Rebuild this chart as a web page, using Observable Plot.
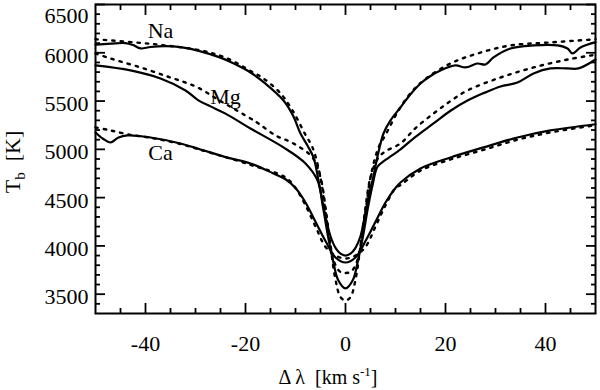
<!DOCTYPE html>
<html><head><meta charset="utf-8">
<script src="https://cdn.jsdelivr.net/npm/d3@7"></script>
<script src="https://cdn.jsdelivr.net/npm/@observablehq/plot@0.6"></script>
<style>
body{margin:0;background:#fff}
</style>
</head><body><div id="chart"></div>
<script>
// x: Δλ (km/s), y: Tb (K)
const naSolidX = [-50,-47,-44,-42.5,-41,-39,-36,-33,-29,-25,-22,-19,-16,-12.4,-10.5,-9,-7.5,-6.4,-5.4,-4,-3,-2,-1,0,1,2,3,4,5,5.4,6.5,7.6,9,11,13,15,17,19,22,24,26.4,28,29.6,33,37.6,42.4,44.4,45.4,47,50];
const naSolidY = [6085,6095,6100,6080,6045,6060,6068,6058,6015,5950,5880,5796,5680,5506,5350,5164,5030,4916,4678,4300,4100,3980,3920,3900,3920,3980,4100,4350,4600,4678,4950,5164,5300,5434,5570,5682,5760,5817,5869,5848,5889,5879,5952,6045,6076,6076,6045,5993,6055,6110];
const naDotX = [-50,-42,-36,-29,-24,-18.6,-16.4,-13,-10.6,-8,-6.6,-5,-4,-3,-2,-1,0,1,2,3,4,5,6.6,8,10.6,13,16,21,26.4,33,41,50];
const naDotY = [6140,6107,6076,6024,5950,5800,5734,5580,5403,5150,5020,4709,4350,4000,3800,3730,3720,3730,3800,4000,4350,4709,5020,5150,5403,5580,5730,5889,5993,6076,6107,6140];
const mgSolidX = [-50,-43,-37,-32,-29.5,-27,-24,-19,-12.4,-8,-5.6,-4.5,-3.5,-2.5,-1.5,0,1.5,2.5,3.5,4.5,5.5,6.4,8,11,14,17.6,21,24.4,28,31,34.4,37.6,41,44.4,46.6,50];
const mgSolidY = [5869,5817,5734,5610,5510,5445,5370,5216,5020,4854,4678,4400,4100,3850,3650,3560,3650,3850,4100,4400,4650,4820,4890,5000,5130,5268,5400,5506,5590,5651,5692,5786,5838,5838,5838,5930];
const mgDotX = [-50,-47,-41,-35,-30,-25,-19,-17.4,-14,-10.4,-6.6,-5,-4,-3,-2,-1,0,1,2,3,4,5,6.6,8,11,14,17.6,21,24.4,31,37.6,44.4,50];
const mgDotY = [5993,5941,5848,5744,5651,5500,5320,5268,5144,5061,4916,4709,4400,4000,3650,3470,3435,3470,3650,4000,4400,4709,4916,4980,5061,5220,5371,5500,5610,5744,5848,5930,5980];
const caSolidX = [-50,-48.5,-47,-45.5,-43.6,-39,-33,-29,-24,-19,-14.4,-12,-10,-8,-6,-4,-2,0,2,4,6,8,10,11,15,21,27.6,34.4,41,50];
const caSolidY = [5175,5110,5071,5120,5144,5123,5061,4999,4920,4854,4750,4690,4600,4450,4250,4050,3880,3828,3880,4050,4250,4450,4600,4657,4802,4916,5020,5123,5196,5260];
const caDotX = [-50,-47,-43,-39,-33,-29,-19,-12,-10,-8,-6,-4,-2,0,2,4,6,8,10,11,15,21,27.6,34.4,41,50];
const caDotY = [5227,5196,5150,5120,5055,4995,4840,4709,4600,4420,4200,3990,3900,3870,3900,3990,4200,4420,4600,4630,4780,4895,4995,5100,5175,5250];

const labelNames = ["Na","Mg","Ca"];
const labelX = [-37,-24,-37];
const labelY = [6225,5540,4965];

const xMajor = [-40,-20,0,20,40];
const xMinor = d3.range(-45,50,5).filter(v => !xMajor.includes(v));
const yMajor = [3500,4000,4500,5000,5500,6000,6500];
const yMinor = d3.range(3400,6500,100).filter(v => !yMajor.includes(v));

const toRows = (xs, ys) => xs.map((x,i) => ({x, y: ys[i]}));
const solid = [toRows(naSolidX,naSolidY), toRows(mgSolidX,mgSolidY), toRows(caSolidX,caSolidY)];
const dotted = [toRows(naDotX,naDotY), toRows(mgDotX,mgDotY), toRows(caDotX,caDotY)];
const labels = labelNames.map((t,i) => ({t, x: labelX[i], y: labelY[i]}));

const FONT = "'Liberation Serif', 'Times New Roman', Times, serif";
const blank = () => "";
const plain = d => String(d);
const tk = {strokeWidth: 1.8, label: null, tickFormat: blank};

const plot = Plot.plot({
  width: 600, height: 390,
  marginLeft: 95, marginRight: 5, marginTop: 4, marginBottom: 77,
  x: {domain: [-50, 50]},
  y: {domain: [3300, 6500]},
  style: {fontFamily: FONT, fontSize: "22px", background: "#fff", color: "#000"},
  marks: [
    ...dotted.map(d => Plot.line(d, {x: "x", y: "y", curve: "catmull-rom", stroke: "#000", strokeWidth: 2.4, strokeDasharray: "2.4,6"})),
    ...solid.map(d => Plot.line(d, {x: "x", y: "y", curve: "catmull-rom", stroke: "#000", strokeWidth: 2.2})),
    Plot.text(labels, {x: "x", y: "y", text: "t", fontSize: 22, fill: "#000"}),
    Plot.axisX(xMajor, {anchor: "bottom", tickSize: -10, ...tk}),
    Plot.axisX(xMinor, {anchor: "bottom", tickSize: -5, ...tk}),
    Plot.axisX(xMajor, {anchor: "top", tickSize: -10, ...tk}),
    Plot.axisX(xMinor, {anchor: "top", tickSize: -5, ...tk}),
    Plot.axisY(yMajor, {anchor: "left", tickSize: -10, ...tk}),
    Plot.axisY(yMinor, {anchor: "left", tickSize: -5, ...tk}),
    Plot.axisY(yMajor, {anchor: "right", tickSize: -10, ...tk}),
    Plot.axisY(yMinor, {anchor: "right", tickSize: -5, ...tk}),
    Plot.axisX(xMajor, {anchor: "bottom", tickSize: 0, tickPadding: 22, label: null, fontSize: 22, tickFormat: plain}),
    Plot.axisY(yMajor.slice(0, -1), {anchor: "left", tickSize: 0, tickPadding: 7, dy: 3, label: null, fontSize: 22, tickFormat: plain}),
    Plot.axisY(yMajor.slice(-1), {anchor: "left", tickSize: 0, tickPadding: 7, dy: 11, label: null, fontSize: 22, tickFormat: plain}),
    Plot.frame({stroke: "#000", strokeWidth: 2})
  ]
});
document.getElementById("chart").appendChild(plot);

const svg = d3.select(plot);
const yl = svg.append("text")
  .attr("transform", "translate(20,162) rotate(-90)")
  .attr("text-anchor", "middle")
  .attr("font-size", 22).attr("fill", "#000");
yl.append("tspan").text("T");
yl.append("tspan").attr("font-size", 15).attr("dy", 5).text("b");
yl.append("tspan").attr("dy", -5).text("\u00a0\u00a0[K]");

const xl = svg.append("text")
  .attr("x", 328).attr("y", 384)
  .attr("text-anchor", "middle")
  .attr("font-size", 20).attr("fill", "#000");
xl.append("tspan").text("\u0394\u2009\u03bb\u2002[km s");
xl.append("tspan").attr("font-size", 13).attr("dy", -8).text("-1");
xl.append("tspan").attr("dy", 8).text("]");

svg.selectAll("text, tspan")
  .attr("font-family", FONT)
  .style("font-family", FONT, "important")
  .style("font-variant", "normal");
svg.selectAll("g").style("font-family", FONT).style("font-variant", "normal");
</script></body></html>
